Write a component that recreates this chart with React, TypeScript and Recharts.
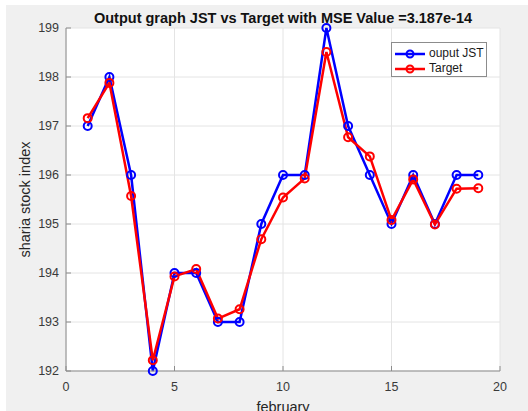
import { CartesianGrid, Line, LineChart, XAxis, YAxis } from "recharts";

const days = [1, 2, 3, 4, 5, 6, 7, 8, 9, 10, 11, 12, 13, 14, 15, 16, 17, 18, 19];
const ouputJst = [197, 198, 196, 192, 194, 194, 193, 193, 195, 196, 196, 199, 197, 196, 195, 196, 195, 196, 196];
const target = [
  197.16, 197.88, 195.57, 192.22, 193.93, 194.08, 193.07, 193.26, 194.69, 195.54, 195.93, 198.51, 196.77, 196.38,
  195.08, 195.91, 194.99, 195.72, 195.73,
];
const xTicks = [0, 5, 10, 15, 20];
const yTicks = [192, 193, 194, 195, 196, 197, 198, 199];

const seriesNames = ["ouput JST", "Target"];
const seriesColors = ["#0000ff", "#ff0000"];

const title = "Output graph JST vs Target with MSE Value =3.187e-14";
const xLabel = "february";
const yLabel = "sharia stock index";

const data = days.map((d, i) => ({ x: d, jst: ouputJst[i], target: target[i] }));

const AXIS = "#8c8c8c";
const TEXT = "#3a3a3a";

// legend drawn as an overlay so it does not eat into the plot area
const LegendBox = () => (
  <div
    style={{
      position: "absolute",
      left: 391,
      top: 42,
      width: 96,
      height: 35,
      boxSizing: "border-box",
      border: `1px solid ${AXIS}`,
      background: "#fff",
      paddingTop: 3,
      fontSize: 12,
      color: "#1a1a1a",
    }}
  >
    {seriesNames.map((name, i) => (
      <div key={name} style={{ display: "flex", alignItems: "center", height: 15, lineHeight: "15px" }}>
        <svg width={36} height={12} style={{ flex: "none" }}>
          <line x1={3} y1={6} x2={33} y2={6} stroke={seriesColors[i]} strokeWidth={2.5} />
          <circle cx={18} cy={6} r={3.5} fill="none" stroke={seriesColors[i]} strokeWidth={2} />
        </svg>
        <span style={{ marginLeft: 1 }}>{name}</span>
      </div>
    ))}
  </div>
);

export default function App() {
  return (
    <div
      style={{
        position: "absolute",
        left: 0,
        top: 0,
        width: 528,
        height: 411,
        background: "#fff",
        overflow: "hidden",
        fontFamily: "'Liberation Sans', Arial, sans-serif",
      }}
    >
      <div
        style={{
          position: "absolute",
          left: 6,
          top: 5,
          width: 522,
          height: 406,
          background: "#f0f0f0",
          overflow: "hidden",
        }}
      >
        <LineChart width={522} height={430} data={data} margin={{ top: 23, right: 28, left: 0, bottom: 19 }}>
          <CartesianGrid stroke="#e4e4e4" fill="#fff" horizontalValues={yTicks} verticalValues={xTicks} />
          <XAxis
            dataKey="x"
            type="number"
            domain={[0, 20]}
            ticks={xTicks}
            height={45}
            tickSize={-5}
            tickMargin={16}
            stroke={AXIS}
            tick={{ fill: TEXT, fontSize: 12.5 }}
            label={{ value: xLabel, position: "insideBottom", offset: 4, style: { fill: "#262626", fontSize: 14.5 } }}
          />
          <XAxis
            xAxisId="top"
            orientation="top"
            dataKey="x"
            type="number"
            domain={[0, 20]}
            ticks={xTicks}
            height={0}
            tickSize={-5}
            tickFormatter={() => ""}
            stroke={AXIS}
          />
          <YAxis
            type="number"
            domain={[192, 199]}
            ticks={yTicks}
            width={60}
            tickSize={-5}
            tickMargin={12}
            stroke={AXIS}
            tick={{ fill: TEXT, fontSize: 12.5 }}
            label={{
              value: yLabel,
              angle: -90,
              position: "insideLeft",
              offset: 19,
              style: { textAnchor: "middle", fill: "#262626", fontSize: 14.5 },
            }}
          />
          <YAxis
            yAxisId="right"
            orientation="right"
            type="number"
            domain={[192, 199]}
            ticks={yTicks}
            width={0}
            tickSize={-5}
            tickFormatter={() => ""}
            stroke={AXIS}
          />
          <Line
            dataKey="jst"
            name={seriesNames[0]}
            stroke={seriesColors[0]}
            strokeWidth={2.5}
            dot={{ r: 4, strokeWidth: 2, fill: "none", stroke: seriesColors[0] }}
            activeDot={false}
            isAnimationActive={false}
          />
          <Line
            dataKey="target"
            name={seriesNames[1]}
            stroke={seriesColors[1]}
            strokeWidth={2.5}
            dot={{ r: 4, strokeWidth: 2, fill: "none", stroke: seriesColors[1] }}
            activeDot={false}
            isAnimationActive={false}
          />
        </LineChart>
      </div>
      <div
        style={{
          position: "absolute",
          left: 66,
          top: 11,
          width: 434,
          textAlign: "center",
          fontSize: 14.5,
          lineHeight: "14.5px",
          fontWeight: "bold",
          color: "#111",
          whiteSpace: "nowrap",
        }}
      >
        {title}
      </div>
      <LegendBox />
    </div>
  );
}
